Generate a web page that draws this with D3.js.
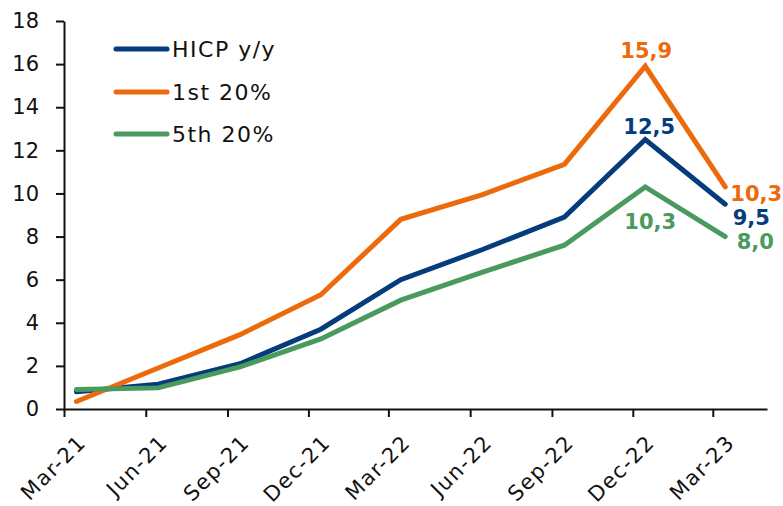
<html>
<head>
  <meta charset="UTF-8">
  <title>HICP by income quintile</title>
  <script src="https://d3js.org/d3.v7.min.js"></script>
  <style>
    body { margin: 0; background: #fff; }
    text { font-family: "DejaVu Sans", sans-serif; }
  </style>
</head>
<body>
  <svg id="chart" width="783" height="506"></svg>
  <script>
    /* Data */
    const months = ["2021-03-15", "2021-06-15", "2021-09-15", "2021-12-15", "2022-03-15",
                    "2022-06-15", "2022-09-15", "2022-12-15", "2023-03-15"];
    const hicp = [0.8, 1.15, 2.1, 3.7, 6.0, 7.4, 8.9, 12.5, 9.5];
    const first20 = [0.35, 1.9, 3.45, 5.3, 8.8, 9.95, 11.35, 15.9, 10.3];
    const fifth20 = [0.9, 0.98, 1.95, 3.25, 5.05, 6.35, 7.6, 10.3, 8.0];
    const seriesNames = ["HICP y/y", "1st 20%", "5th 20%"];
    const yTicks = [0, 2, 4, 6, 8, 10, 12, 14, 16, 18];

    const colors = ["#043c7c", "#ed6a0c", "#4a9a60"];

    const svg = d3.select("#chart");
    const parse = d3.timeParse("%Y-%m-%d");
    const dates = months.map(parse);

    const x = d3.scaleTime()
      .domain([new Date(2021, 2, 1), new Date(2023, 4, 1)])
      .range([64, 767]);
    const y = d3.scaleLinear().domain([0, 18]).range([409, 21]);

    // y axis
    const yAxis = d3.axisLeft(y).tickValues(yTicks).tickSizeInner(8).tickSizeOuter(0).tickPadding(17);
    const gy = svg.append("g").attr("transform", "translate(64,0)").call(yAxis);
    gy.selectAll("text").attr("font-size", 21).attr("font-family", "DejaVu Sans").attr("fill", "#111");

    // x axis, ticks on the first of each quarter month
    const tickDates = dates.map(d => d3.timeMonth.floor(d));
    const xAxis = d3.axisBottom(x).tickValues(tickDates).tickFormat(d3.timeFormat("%b-%y"))
      .tickSizeInner(8).tickSizeOuter(0);
    const gx = svg.append("g").attr("transform", "translate(0,409)").call(xAxis);
    gx.selectAll("text")
      .attr("font-size", 21).attr("font-family", "DejaVu Sans").attr("fill", "#111")
      .attr("letter-spacing", 1.5)
      .attr("text-anchor", "end")
      .attr("dy", 0)
      .attr("transform", "translate(15,27) rotate(-45)");

    svg.selectAll(".domain, .tick line").attr("stroke", "#111").attr("stroke-width", 2);

    // lines
    const series = [hicp, first20, fifth20];
    const line = d3.line().x((d, i) => x(dates[i])).y(d => y(d));
    series.forEach((s, k) => {
      svg.append("path")
        .datum(s)
        .attr("d", line)
        .attr("fill", "none")
        .attr("stroke", colors[k])
        .attr("stroke-width", 5)
        .attr("stroke-linecap", "round")
        .attr("stroke-linejoin", "miter");
    });

    // data labels (last peak and last point)
    const labelFmt = v => v.toFixed(1).replace(".", ",");
    const peak = 7, last = 8;
    const labels = [
      { s: 1, i: peak, dx: 1, dy: -8 },
      { s: 0, i: peak, dx: 4, dy: -6 },
      { s: 2, i: peak, dx: 5, dy: 42 },
      { s: 1, i: last, dx: 31, dy: 14 },
      { s: 0, i: last, dx: 26, dy: 21 },
      { s: 2, i: last, dx: 30, dy: 12 }
    ];
    labels.forEach(l => {
      const v = series[l.s][l.i];
      svg.append("text")
        .attr("x", x(dates[l.i]) + l.dx)
        .attr("y", y(v) + l.dy)
        .attr("text-anchor", "middle")
        .attr("font-size", 21)
        .attr("font-weight", "bold")
        .attr("fill", colors[l.s])
        .text(labelFmt(v));
    });

    // legend
    const legendY = [49, 92, 134];
    seriesNames.forEach((name, k) => {
      svg.append("line")
        .attr("x1", 116).attr("x2", 167)
        .attr("y1", legendY[k]).attr("y2", legendY[k])
        .attr("stroke", colors[k]).attr("stroke-width", 5).attr("stroke-linecap", "round");
      svg.append("text")
        .attr("x", 172).attr("y", legendY[k] + 8)
        .attr("font-size", 22)
        .attr("letter-spacing", 1.5)
        .attr("fill", "#111")
        .text(name);
    });
  </script>
</body>
</html>
